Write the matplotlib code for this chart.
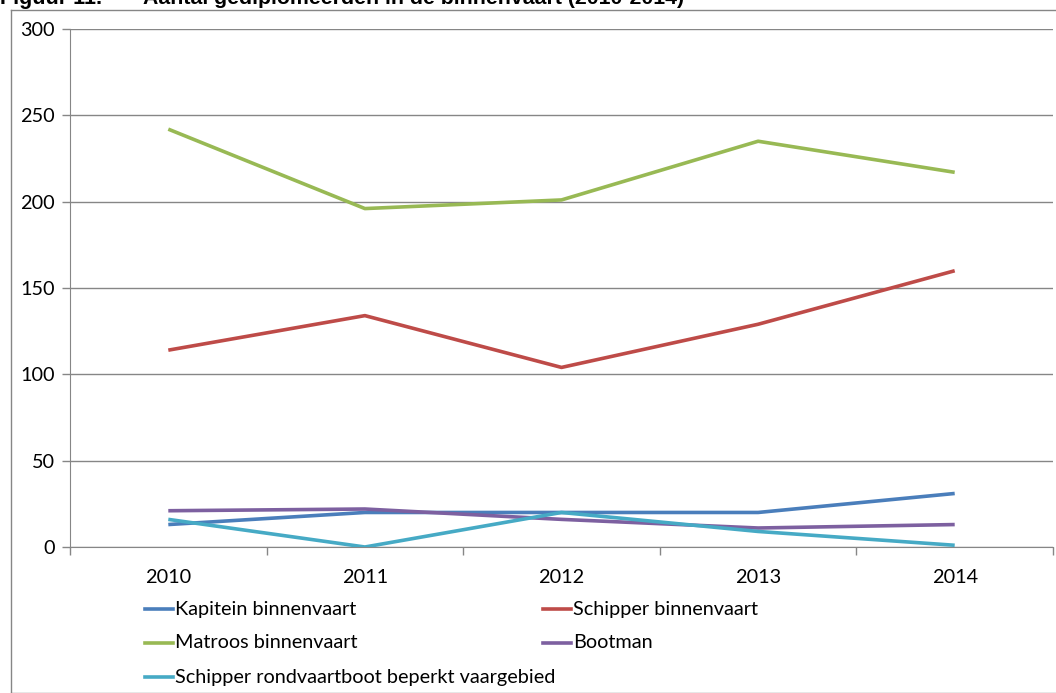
import matplotlib
matplotlib.use("Agg")
import matplotlib.pyplot as plt
from matplotlib.lines import Line2D
import numpy as np

years = ["2010", "2011", "2012", "2013", "2014"]
kapitein = [13, 20, 20, 20, 31]
schipper = [114, 134, 104, 129, 160]
matroos = [242, 196, 201, 235, 217]
bootman = [21, 22, 16, 11, 13]
rondvaart = [16, 0, 20, 9, 1]

series_names = ["Kapitein binnenvaart", "Schipper binnenvaart", "Matroos binnenvaart",
                "Bootman", "Schipper rondvaartboot beperkt vaargebied"]
series_vals = [kapitein, schipper, matroos, bootman, rondvaart]
colors = ["#4A7EBB", "#BE4B48", "#98B954", "#7D60A0", "#46AAC5"]

plt.rcParams['font.family'] = ['Lato', 'DejaVu Sans']
FS = 14.3

W, H = 1056, 693
fig = plt.figure(figsize=(W / 100, H / 100), dpi=100)

# outer chart frame
frame_ax = fig.add_axes([11 / W, 0, 1.2, 1 - 9.5 / H])
frame_ax.set_xticks([]); frame_ax.set_yticks([])
for s in frame_ax.spines.values():
    s.set_color("#868686"); s.set_linewidth(1.0)
frame_ax.patch.set_alpha(0)

# title (clipped at top as in the source)
fig.text(0 / W, 1 - 4 / H, "Figuur 11.", fontsize=15.5, fontweight="bold",
         family="Liberation Sans", va="baseline", ha="left")
fig.text(143 / W, 1 - 4 / H, "Aantal gediplomeerden in de binnenvaart (2010-2014)",
         fontsize=15.3, fontweight="bold", family="Liberation Sans", va="baseline", ha="left")

left, right = 70, 1053
top, bottom = 29, 547
ax = fig.add_axes([left / W, 1 - bottom / H, (right - left) / W, (bottom - top) / H])

x = np.arange(len(years))
for name, vals, c in zip(series_names, series_vals, colors):
    ax.plot(x, vals, color=c, lw=2.6, label=name, solid_capstyle="butt", zorder=3)

ax.set_xlim(-0.5, len(years) - 0.5)
ax.set_ylim(0, 300)
ax.set_yticks(np.arange(0, 301, 50))
ax.yaxis.grid(True, color="#868686", lw=1.0)
ax.set_axisbelow(True)
ax.set_xticks(x)
ax.set_xticklabels(years)
ax.set_xticks(np.arange(-0.5, len(years), 1), minor=True)
ax.tick_params(axis="x", which="major", length=0, pad=16, labelsize=FS)
ax.tick_params(axis="x", which="minor", length=6, color="#868686", width=1.0, direction="out")
ax.tick_params(axis="y", length=6, color="#868686", width=1.0, pad=5, labelsize=FS)
for k in ["top", "right"]:
    ax.spines[k].set_visible(False)
ax.spines["left"].set_color("#868686")
ax.spines["bottom"].set_color("#868686")
ax.patch.set_alpha(0)

# legend in two columns (row-wise order)
pos = [(145, 609), (543, 609), (145, 643), (543, 643), (145, 677)]
for (px, py), name, c in zip(pos, series_names, colors):
    fig.add_artist(Line2D([px / W, (px + 28) / W], [1 - py / H, 1 - py / H],
                          color=c, lw=2.6, transform=fig.transFigure))
    fig.text((px + 30) / W, 1 - py / H, name, fontsize=FS, va="center", ha="left")

fig.savefig("out.png", dpi=100)
